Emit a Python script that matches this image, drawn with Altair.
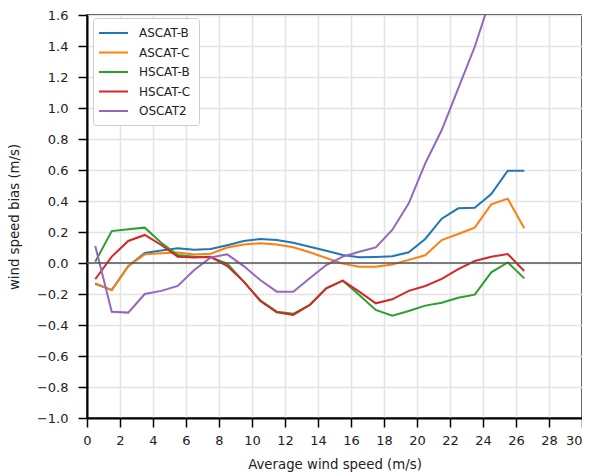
import altair as alt
import pandas as pd

speed = [0.5, 1.5, 2.5, 3.5, 4.5, 5.5, 6.5, 7.5, 8.5, 9.5, 10.5, 11.5, 12.5, 13.5,
         14.5, 15.5, 16.5, 17.5, 18.5, 19.5, 20.5, 21.5, 22.5, 23.5, 24.5, 25.5, 26.5]

ascat_b = [-0.135, -0.175, -0.02, 0.065, 0.08, 0.095, 0.085, 0.09, 0.115, 0.142, 0.155,
           0.148, 0.131, 0.105, 0.079, 0.052, 0.037, 0.039, 0.043, 0.069, 0.155, 0.286,
           0.353, 0.357, 0.445, 0.595, 0.595]
ascat_c = [-0.13, -0.175, -0.02, 0.056, 0.063, 0.068, 0.055, 0.06, 0.1, 0.12, 0.127,
           0.12, 0.101, 0.069, 0.032, -0.004, -0.024, -0.024, -0.01, 0.02, 0.05, 0.148,
           0.187, 0.228, 0.378, 0.415, 0.224]
hscat_b = [0.008, 0.206, 0.217, 0.228, 0.131, 0.052, 0.041, 0.036, -0.004, -0.12, -0.24,
           -0.314, -0.328, -0.271, -0.163, -0.114, -0.206, -0.303, -0.34, -0.31, -0.275,
           -0.256, -0.224, -0.204, -0.06, 0.004, -0.099]
hscat_c = [-0.105, 0.041, 0.142, 0.181, 0.116, 0.041, 0.036, 0.04, -0.02, -0.12, -0.245,
           -0.318, -0.335, -0.271, -0.163, -0.114, -0.185, -0.26, -0.234, -0.18, -0.148,
           -0.103, -0.039, 0.013, 0.04, 0.058, -0.052]
oscat2 = [0.11, -0.314, -0.32, -0.2, -0.18, -0.148, -0.045, 0.036, 0.056, -0.02, -0.11,
          -0.185, -0.185, -0.099, -0.013, 0.041, 0.073, 0.101, 0.213, 0.385, 0.643, 0.858,
          1.127, 1.395, 1.72]

series_names = ["ASCAT-B", "ASCAT-C", "HSCAT-B", "HSCAT-C", "OSCAT2"]
series_vals = [ascat_b, ascat_c, hscat_b, hscat_c, oscat2]
colors = ["#1f77b4", "#ff7f0e", "#2ca02c", "#d62728", "#9467bd"]

rows = []
for name, vals in zip(series_names, series_vals):
    for x, v in zip(speed, vals):
        rows.append({"speed": x, "bias": v, "series": name})
df = pd.DataFrame(rows)

x_ticks = list(range(0, 31, 2))
y_ticks = [round(-1.0 + 0.2 * i, 1) for i in range(14)]

font = "DejaVu Sans"

x_scale = alt.Scale(domain=[0, 30], nice=False, zero=False)
y_scale = alt.Scale(domain=[-1.0, 1.6], nice=False)

x_axis = alt.Axis(values=x_ticks, title="Average wind speed (m/s)",
                  format="d", labelPadding=7, titlePadding=10,
                  labelOverlap=False, labelFlush=False,
                  labelAlign={"condition": {"test": "datum.value >= 30", "value": "right"},
                              "value": "center"})
y_axis = alt.Axis(values=y_ticks, title="wind speed bias (m/s)",
                  labelExpr="replace(format(datum.value, '.1f'), '-', '\u2212')",
                  labelPadding=10, titlePadding=15,
                  labelOverlap=False, labelFlush=False)

lines = alt.Chart(df).mark_line(clip=True, strokeWidth=2).encode(
    x=alt.X("speed:Q", scale=x_scale, axis=x_axis),
    y=alt.Y("bias:Q", scale=y_scale, axis=y_axis),
    color=alt.Color("series:N",
                    scale=alt.Scale(domain=series_names, range=colors),
                    legend=alt.Legend(title=None, orient="none", legendX=6, legendY=3,
                                      symbolType="M-1.5,0H3.33", symbolSize=144,
                                      symbolStrokeWidth=2, labelFont=font,
                                      labelFontSize=12, labelColor="#222",
                                      fillColor="white", strokeColor="#ccc",
                                      cornerRadius=3, padding=8, rowPadding=6.5,
                                      labelOffset=24)),
    order=alt.Order("speed:Q"),
)

zero = alt.Chart(pd.DataFrame({"bias": [0.0]})).mark_rule(
    color="#555555", strokeWidth=1.5).encode(
    y=alt.Y("bias:Q", scale=y_scale, axis=y_axis))

chart = alt.layer(lines, zero).properties(
    width=495, height=403,
    autosize=alt.AutoSizeParams(type="none"),
    padding={"left": 79, "top": 7, "right": 0, "bottom": 56},
).configure_view(
    stroke="black", strokeWidth=1.5,
).configure_axis(
    labelFont=font, titleFont=font, labelFontSize=13, titleFontSize=13.3,
    titleFontWeight="normal", labelColor="#222", titleColor="#222",
    domainColor="black", domainWidth=2, tickColor="black", tickWidth=1.5,
    tickSize=9, gridColor="#e3e3e3", gridWidth=1.5,
)

chart.save("out.html", embed_options={"renderer": "svg", "actions": False})
